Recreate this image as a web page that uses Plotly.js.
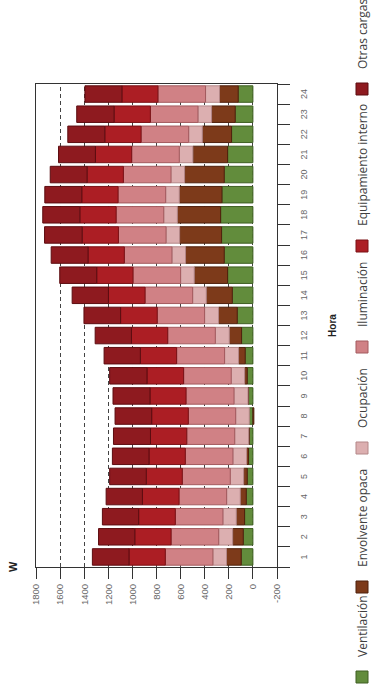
<!DOCTYPE html>
<html>
<head>
<meta charset="utf-8">
<script src="https://cdn.plot.ly/plotly-3.0.1.min.js"></script>
<style>
html,body{margin:0;padding:0;width:373px;height:697px;overflow:hidden;background:#fff;}
#chart{position:absolute;left:0;top:0;width:697px;height:373px;transform-origin:0 0;transform:translateY(697px) rotate(-90deg);}
</style>
</head>
<body>
<div id="chart"></div>
<script>
var hours = ["1","2","3","4","5","6","7","8","9","10","11","12","13","14","15","16","17","18","19","20","21","22","23","24"];
var seriesNames = ["Ventilación","Envolvente opaca","Ocupación","Iluminación","Equipamiento interno","Otras cargas"];
var ventilacion = [97,80,69,55,47,36,30,30,36,47,64,94,130,171,210,238,260,268,257,238,210,177,147,122];
var envolvente  = [122,88,69,50,30,17,5,-8,5,22,55,102,155,216,277,321,348,359,354,329,288,243,196,155];
var ocupacion   = [113,116,111,113,111,113,116,113,116,111,116,116,116,113,113,113,113,113,113,113,113,113,113,116];
var iluminacion = [395,395,395,395,398,395,398,393,398,395,398,395,393,395,395,395,395,395,395,395,395,395,395,395];
var equipamiento= [301,301,304,304,299,301,301,304,299,304,301,301,304,304,301,301,301,301,301,301,301,301,301,299];
var otras       = [304,301,301,301,304,304,307,304,307,310,301,301,304,301,307,306,312,308,307,306,306,307,310,307];
var yTickVals = [-200,0,200,400,600,800,1000,1200,1400,1600,1800];
var yTickText = ["-200","0","200","400","600","800","1000","1200","1400","1600","1800"];

var values = [ventilacion, envolvente, ocupacion, iluminacion, equipamiento, otras];
var fills = ["#628C3C","#7D3A1A","#DCAFB0","#D08185","#AC1E24","#8E1A1F"];
var edges = ["#3E5F22","#4F200C","#B48788","#A35A5E","#7A1015","#5C0C10"];
var legendX = [0, 90, 229, 330, 431, 588];

var traces = values.map(function(v, i){
  return {
    type: "bar",
    x: hours,
    y: v,
    name: seriesNames[i],
    legend: i === 0 ? "legend" : "legend" + (i + 1),
    marker: {color: fills[i], line: {color: edges[i], width: 1}},
    width: 0.82,
    hoverinfo: "skip"
  };
});

var layout = {
  width: 697,
  height: 373,
  margin: {l: 130, r: 84, t: 36, b: 96},
  paper_bgcolor: "#fff",
  plot_bgcolor: "#fff",
  barmode: "relative",
  showlegend: true,
  font: {family: "Liberation Sans, Arial, sans-serif", color: "#666", size: 9.5},
  xaxis: {
    type: "category",
    range: [-0.5, 23.5],
    tickson: "boundaries",
    ticks: "outside",
    ticklen: 12,
    tickcolor: "#333",
    tickwidth: 1,
    showline: true,
    linecolor: "#333",
    linewidth: 1,
    mirror: true,
    showgrid: false,
    ticklabelstandoff: 18,
    tickfont: {family: "Liberation Sans, Arial, sans-serif", size: 9, color: "#666"},
    title: {text: "<b>Hora</b>", font: {family: "Liberation Sans, Arial, sans-serif", size: 10, color: "#222"}, standoff: 21}
  },
  yaxis: {
    range: [-200, 1800],
    tickvals: yTickVals,
    ticktext: yTickText,
    ticks: "outside",
    ticklen: 11,
    tickcolor: "#333",
    tickwidth: 1,
    showline: true,
    linecolor: "#333",
    linewidth: 1,
    mirror: true,
    showgrid: true,
    gridcolor: "#444",
    gridwidth: 1,
    griddash: "4px,3px",
    zeroline: false,
    ticklabelstandoff: 3,
    tickfont: {family: "Liberation Sans, Arial, sans-serif", size: 9.5, color: "#666"}
  },
  annotations: [{
    text: "<b>W</b>", xref: "paper", yref: "paper", x: 0, y: 1,
    xanchor: "center", yanchor: "middle", yshift: 23, showarrow: false,
    font: {family: "Liberation Sans, Arial, sans-serif", size: 11, color: "#222"}
  }]
};

legendX.forEach(function(px, i){
  var key = i === 0 ? "legend" : "legend" + (i + 1);
  layout[key] = {
    orientation: "h",
    xref: "container", yref: "container",
    x: px / 697, y: 11 / 373,
    xanchor: "left", yanchor: "middle",
    bgcolor: "rgba(0,0,0,0)",
    borderwidth: 0,
    font: {family: "Open Sans, sans-serif", size: 12, color: "#404040"}
  };
});

Plotly.newPlot("chart", traces, layout, {displayModeBar: false, staticPlot: true});
</script>
</body>
</html>
